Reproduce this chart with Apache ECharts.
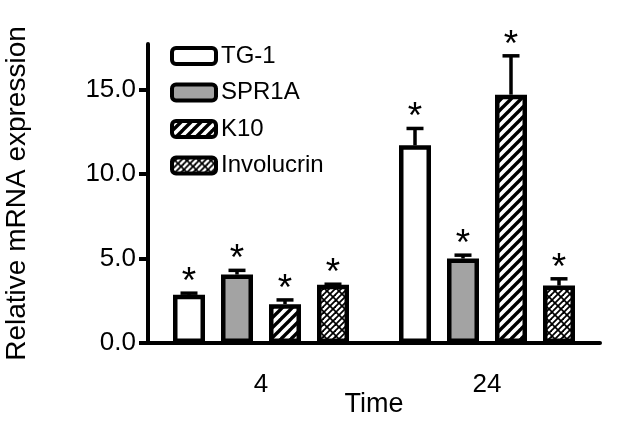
<!DOCTYPE html>
<html>
<head>
<meta charset="utf-8">
<script src="https://cdn.jsdelivr.net/npm/echarts@6/dist/echarts.min.js"></script>
<style>
html,body{margin:0;padding:0;background:#fff;}
#chart{width:633px;height:433px;}
</style>
</head>
<body>
<div id="chart"></div>
<script>
var categories = ['4', '24'];
var seriesNames = ['TG-1', 'SPR1A', 'K10', 'Involucrin'];
var tg1Mean = [2.85, 11.7];
var tg1Err = [0.1, 1.0];
var spr1aMean = [4.05, 5.0];
var spr1aErr = [0.25, 0.2];
var k10Mean = [2.3, 14.7];
var k10Err = [0.25, 2.3];
var invMean = [3.45, 3.4];
var invErr = [0.03, 0.4];
var yTicks = [0, 5, 10, 15];

var means = [tg1Mean, spr1aMean, k10Mean, invMean];
var errs = [tg1Err, spr1aErr, k10Err, invErr];

function stripePattern(period, width) {
  var T = period;
  var c = document.createElement('canvas');
  c.width = T; c.height = T;
  var ctx = c.getContext('2d');
  ctx.fillStyle = '#fff';
  ctx.fillRect(0, 0, T, T);
  ctx.strokeStyle = '#000';
  ctx.lineWidth = width;
  for (var k = -1; k <= 2; k++) {
    var cc = k * T;
    ctx.beginPath();
    ctx.moveTo(cc + 2, -2);
    ctx.lineTo(cc - T - 2, T + 2);
    ctx.stroke();
  }
  return c;
}

function brickPattern() {
  var T = 12;
  var c = document.createElement('canvas');
  c.width = T; c.height = T;
  var ctx = c.getContext('2d');
  ctx.fillStyle = '#fff';
  ctx.fillRect(0, 0, T, T);
  ctx.strokeStyle = '#000';
  ctx.lineWidth = 1.8;
  for (var k = -1; k <= 3; k++) {
    var cc = k * 6;
    ctx.beginPath();
    ctx.moveTo(cc + 2, -2);
    ctx.lineTo(cc - T - 2, T + 2);
    ctx.stroke();
  }
  ctx.lineWidth = 1.6;
  for (var k2 = -1; k2 <= 2; k2++) {
    var d = k2 * T;
    ctx.beginPath();
    ctx.moveTo(d - 2, -2);
    ctx.lineTo(d + T + 2, T + 2);
    ctx.stroke();
  }
  return c;
}

var fills = [
  '#ffffff',
  '#a3a3a3',
  { image: stripePattern(10, 3.4), repeat: 'repeat' },
  { image: brickPattern(), repeat: 'repeat' }
];

var BAR_W = 32;
var BAR_GAP = 0.5;
var PITCH = BAR_W * (1 + BAR_GAP);

var series = [];
seriesNames.forEach(function (name, i) {
  series.push({
    name: name,
    type: 'bar',
    barWidth: BAR_W,
    barGap: (BAR_GAP * 100) + '%',
    data: means[i],
    itemStyle: { color: fills[i], borderColor: '#000', borderWidth: 4.5 },
    emphasis: { disabled: true },
    z: 2
  });
});
seriesNames.forEach(function (name, i) {
  series.push({
    name: 'err_' + name,
    type: 'custom',
    z: 3,
    data: means[i].map(function (m, j) { return [j, m, errs[i][j]]; }),
    renderItem: function (params, api) {
      var j = api.value(0), m = api.value(1), e = api.value(2);
      var base = api.coord([j, m]);
      var top = api.coord([j, m + e]);
      var x = base[0] + (i - 1.5) * PITCH;
      return {
        type: 'group',
        children: [
          { type: 'line', shape: { x1: x, y1: base[1], x2: x, y2: top[1] }, style: { stroke: '#000', lineWidth: 3.5 } },
          { type: 'line', shape: { x1: x - 8.5, y1: top[1], x2: x + 8.5, y2: top[1] }, style: { stroke: '#000', lineWidth: 3.5 } },
          { type: 'text', x: x, y: top[1] + 8, style: { text: '*', fontSize: 37, fontFamily: 'Liberation Sans', fill: '#000', align: 'center', verticalAlign: 'bottom' } }
        ]
      };
    }
  });
});

var chart = echarts.init(document.getElementById('chart'));
chart.setOption({
  animation: false,
  backgroundColor: '#fff',
  textStyle: { fontFamily: 'Liberation Sans', color: '#000' },
  grid: { left: 148, right: 33, top: 44, bottom: 90, outerBoundsMode: 'none', containLabel: false },
  legend: {
    data: seriesNames,
    orient: 'vertical',
    left: 170,
    top: 44,
    padding: 0,
    itemWidth: 44,
    itemHeight: 16,
    itemGap: 12.5,
    selectedMode: false,
    itemStyle: { borderColor: '#000', borderWidth: 4 },
    textStyle: { fontSize: 24, color: '#000', fontFamily: 'Liberation Sans' }
  },
  xAxis: {
    type: 'category',
    data: categories,
    name: 'Time',
    nameLocation: 'middle',
    nameGap: 48,
    nameMoveOverlap: false,
    nameTextStyle: { fontSize: 27, color: '#000' },
    axisLine: { lineStyle: { color: '#000', width: 4 } },
    axisTick: { alignWithLabel: true, length: 10, lineStyle: { color: '#000', width: 4 } },
    axisLabel: { fontSize: 26, color: '#000', margin: 29 }
  },
  yAxis: {
    type: 'value',
    min: 0,
    max: 17.7,
    interval: 5,
    name: 'Relative mRNA expression',
    nameLocation: 'middle',
    nameGap: 117,
    nameMoveOverlap: false,
    nameTextStyle: { fontSize: 28, color: '#000' },
    splitLine: { show: false },
    axisLine: { show: true, lineStyle: { color: '#000', width: 4 } },
    axisTick: { show: true, length: 9, customValues: yTicks, lineStyle: { color: '#000', width: 4 } },
    axisLabel: { fontSize: 26, color: '#000', margin: 12, customValues: yTicks, formatter: function (v) { return v.toFixed(1); } }
  },
  series: series
});
</script>
</body>
</html>
